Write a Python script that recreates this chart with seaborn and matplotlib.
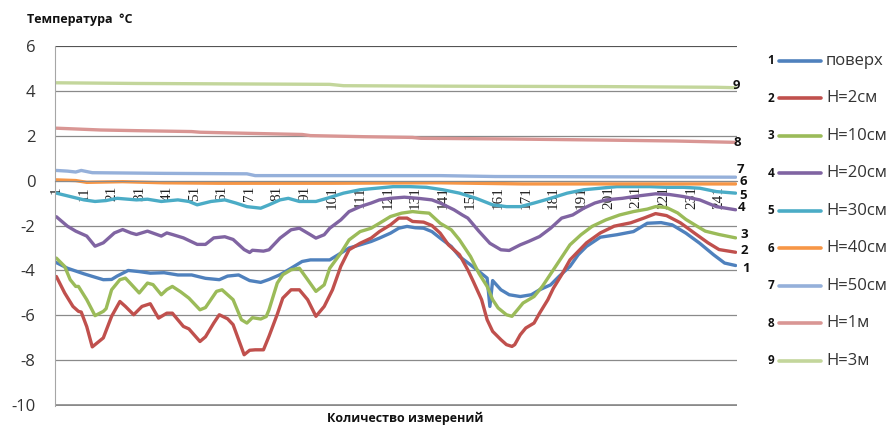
import numpy as np
import pandas as pd
import matplotlib
matplotlib.use('Agg')
import matplotlib.pyplot as plt
from matplotlib.lines import Line2D
import seaborn as sns

# ---- данные ----
series_names = ['поверх', 'H=2см', 'H=10см', 'H=20см', 'H=30см',
                'H=40см', 'H=50см', 'H=1м', 'H=3м']
series_colors = ['#4F81BD', '#C0504D', '#9BBB59', '#8064A2', '#4BACC6',
                 '#F79646', '#95B0DA', '#D99694', '#C3D69B']

n1 = [1, 5, 11, 15, 18, 21, 23, 27, 31, 35, 40, 45, 50, 55, 60, 63, 67, 71, 75, 78,
      82, 86, 90, 93, 100, 104, 107, 111, 115, 118, 122, 125, 128, 131, 134, 137, 140,
      144, 147, 151, 154, 157, 158, 159, 162, 165, 169, 173, 176, 180, 183, 187, 190,
      193, 198, 204, 210, 215, 220, 224, 229, 234, 239, 243, 247]
t1 = [-3.65, -3.9, -4.15, -4.3, -4.41, -4.4, -4.25, -4.0, -4.05, -4.12, -4.1, -4.2, -4.2,
      -4.35, -4.41, -4.25, -4.2, -4.45, -4.53, -4.4, -4.19, -3.9, -3.6, -3.53, -3.53,
      -3.23, -3.0, -2.86, -2.71, -2.56, -2.34, -2.12, -2.04, -2.1, -2.12, -2.27, -2.56,
      -2.93, -3.38, -3.75, -4.04, -4.34, -5.6, -4.45, -4.86, -5.08, -5.16, -5.08, -4.86,
      -4.64, -4.27, -3.82, -3.3, -2.93, -2.52, -2.41, -2.27, -1.9, -1.87, -1.97, -2.34,
      -2.79, -3.3, -3.67, -3.78]

n2 = [1, 4, 7, 9, 10, 12, 14, 18, 21, 24, 26, 29, 32, 35, 38, 41, 43, 47, 49, 53, 55,
      58, 60, 63, 65, 67, 69, 71, 73, 76, 78, 81, 83, 86, 89, 92, 95, 98, 101, 104, 107,
      111, 115, 118, 122, 125, 128, 130, 134, 137, 140, 143, 147, 150, 152, 155, 157,
      159, 162, 164, 166, 167, 169, 171, 174, 176, 179, 181, 184, 187, 193, 198, 203,
      209, 214, 218, 222, 227, 232, 237, 241, 247]
t2 = [-4.27, -5.0, -5.6, -5.82, -5.85, -6.5, -7.4, -7.0, -6.04, -5.38, -5.6, -5.97, -5.6,
      -5.48, -6.12, -5.9, -5.9, -6.49, -6.6, -7.16, -6.95, -6.34, -5.97, -6.15, -6.41,
      -7.08, -7.75, -7.55, -7.53, -7.53, -6.93, -5.95, -5.23, -4.86, -4.86, -5.3, -6.04,
      -5.6, -4.86, -3.82, -3.08, -2.79, -2.56, -2.27, -1.97, -1.67, -1.67, -1.82, -1.85,
      -2.0, -2.34, -2.86, -3.3, -3.97, -4.49, -5.3, -6.19, -6.71, -7.08, -7.3, -7.38,
      -7.3, -6.86, -6.56, -6.34, -5.9, -5.3, -4.79, -4.19, -3.53, -2.77, -2.33, -2.03,
      -1.88, -1.66, -1.47, -1.56, -1.88, -2.33, -2.77, -3.07, -3.19]

n3 = [1, 4, 6, 8, 9, 12, 15, 18, 19, 21, 24, 26, 28, 31, 34, 36, 39, 41, 43, 46, 49, 53,
      55, 59, 61, 65, 68, 70, 72, 75, 77, 78, 81, 83, 86, 89, 92, 95, 98, 100, 104, 107,
      111, 115, 118, 122, 126, 130, 133, 136, 140, 144, 147, 151, 154, 157, 159, 161,
      164, 166, 168, 170, 174, 177, 181, 185, 187, 191, 195, 200, 205, 210, 215, 218,
      222, 226, 229, 233, 236, 241, 247]
t3 = [-3.45, -3.82, -4.41, -4.71, -4.71, -5.3, -6.01, -5.82, -5.7, -4.86, -4.41, -4.34,
      -4.6, -5.0, -4.56, -4.63, -5.08, -4.85, -4.71, -4.95, -5.23, -5.75, -5.65, -4.93,
      -4.86, -5.3, -6.19, -6.34, -6.1, -6.16, -6.05, -5.75, -4.56, -4.19, -3.97, -3.9,
      -4.41, -4.93, -4.64, -3.9, -3.23, -2.64, -2.27, -2.12, -1.9, -1.6, -1.45, -1.38,
      -1.42, -1.45, -1.9, -2.19, -2.64, -3.38, -4.12, -4.71, -5.3, -5.67, -5.97, -6.04,
      -5.75, -5.45, -5.16, -4.71, -3.97, -3.23, -2.86, -2.41, -2.04, -1.75, -1.53, -1.38,
      -1.27, -1.16, -1.2, -1.44, -1.73, -2.03, -2.25, -2.4, -2.55]

n4 = [1, 5, 8, 12, 15, 18, 22, 25, 28, 30, 34, 39, 41, 43, 47, 52, 55, 58, 62, 65, 69,
      71, 72, 76, 78, 82, 86, 89, 93, 95, 98, 100, 104, 107, 111, 115, 118, 122, 127,
      132, 137, 140, 145, 148, 150, 154, 158, 162, 165, 169, 172, 176, 180, 184, 188,
      192, 196, 200, 206, 212, 218, 223, 228, 234, 240, 247]
t4 = [-1.61, -2.03, -2.25, -2.47, -2.92, -2.77, -2.33, -2.18, -2.33, -2.4, -2.25, -2.47,
      -2.33, -2.4, -2.55, -2.84, -2.84, -2.55, -2.5, -2.62, -3.07, -3.2, -3.1, -3.14,
      -3.08, -2.56, -2.19, -2.12, -2.41, -2.56, -2.41, -2.12, -1.75, -1.38, -1.16, -1.0,
      -0.86, -0.79, -0.74, -0.79, -0.86, -1.0, -1.3, -1.53, -1.67, -2.25, -2.79, -3.08,
      -3.11, -2.86, -2.71, -2.49, -2.12, -1.67, -1.53, -1.23, -1.0, -0.86, -0.79, -0.68,
      -0.59, -0.62, -0.71, -0.86, -1.16, -1.3]

n5 = [1, 6, 11, 15, 19, 23, 27, 30, 34, 39, 45, 49, 52, 57, 62, 66, 70, 75, 78, 82, 85,
      89, 95, 99, 105, 111, 117, 123, 129, 135, 141, 147, 153, 159, 164, 169, 174, 180,
      186, 192, 198, 204, 210, 216, 222, 228, 234, 240, 247]
t5 = [-0.56, -0.71, -0.86, -0.93, -0.89, -0.79, -0.83, -0.86, -0.83, -0.93, -0.86, -0.93,
      -1.08, -0.93, -0.86, -1.0, -1.16, -1.23, -1.08, -0.86, -0.79, -0.93, -0.93, -0.79,
      -0.56, -0.41, -0.34, -0.27, -0.27, -0.3, -0.41, -0.56, -0.79, -1.08, -1.16, -1.16,
      -1.0, -0.79, -0.56, -0.41, -0.34, -0.27, -0.27, -0.27, -0.3, -0.3, -0.34, -0.49,
      -0.56]

n6 = [1, 8, 12, 25, 40, 60, 100, 140, 170, 210, 247]
t6 = [0.03, 0.0, -0.08, -0.05, -0.1, -0.12, -0.12, -0.1, -0.15, -0.15, -0.15]

n7 = [1, 5, 8, 10, 14, 40, 70, 73, 140, 160, 247]
t7 = [0.45, 0.42, 0.38, 0.45, 0.35, 0.32, 0.3, 0.22, 0.22, 0.18, 0.15]

n8 = [1, 17, 30, 50, 53, 71, 90, 93, 113, 130, 133, 165, 200, 225, 247]
t8 = [2.33, 2.25, 2.22, 2.18, 2.15, 2.1, 2.05, 2.0, 1.95, 1.92, 1.88, 1.85, 1.8, 1.76, 1.7]

n9 = [1, 30, 100, 105, 140, 200, 240, 247]
t9 = [4.35, 4.32, 4.28, 4.22, 4.2, 4.18, 4.15, 4.13]

all_n = [n1, n2, n3, n4, n5, n6, n7, n8, n9]
all_t = [t1, t2, t3, t4, t5, t6, t7, t8, t9]
x_tick_labels = [str(k) for k in range(1, 248, 10)]

# подписи на концах линий: сдвиг в пикселях
end_offsets = [(10, -3), (9, 2), (9, 3), (6, 2), (8, -2), (8, 2), (5, 8), (2, 0), (1, 2)]

df = pd.concat([pd.DataFrame({'n': n, 't': t, 'series': name})
                for n, t, name in zip(all_n, all_t, series_names)], ignore_index=True)

sns.set_style('white')
plt.rcParams['font.family'] = ['Open Sans', 'DejaVu Sans']

W, H = 893, 425
fig = plt.figure(figsize=(W / 100, H / 100), dpi=100)
ax = fig.add_axes([55 / W, 1 - 406 / H, 682 / W, 360.3 / H])

sns.lineplot(data=df, x='n', y='t', hue='series', hue_order=series_names,
             palette=series_colors, estimator=None, linewidth=2.4,
             legend=False, ax=ax)

ax.set_xlim(0.5, 247.5)
ax.set_ylim(-10.03, 6)
ax.set_yticks(range(-10, 7, 2))
ax.set_yticklabels([str(v) for v in range(-10, 7, 2)], fontsize=12, color='#333333')
ax.yaxis.grid(True, color='#8a8a8a', lw=0.9)
ax.set_axisbelow(True)
ax.axhline(6, color='#444444', lw=1.1, zorder=1)
ax.axhline(-10, color='#8a8a8a', lw=1.2, zorder=1)
ax.tick_params(axis='y', length=5, width=0.8, color='#8a8a8a', pad=9)

for s in ['top', 'right']:
    ax.spines[s].set_visible(False)
ax.spines['left'].set_color('#a6a6a6')
ax.spines['bottom'].set_position(('data', 0))
ax.spines['bottom'].set_color('#8a8a8a')

ax.set_xticks(range(1, 248, 10))
ax.set_xticklabels(x_tick_labels, rotation=90, fontsize=11,
                   family=['Liberation Serif', 'DejaVu Serif'], color='#222222')
ax.set_xticks(np.arange(0.5, 248, 1), minor=True)
ax.tick_params(axis='x', which='major', length=0, pad=4)
ax.tick_params(axis='x', which='minor', length=4, width=0.7, color='#858585')
ax.set_xlabel('')
ax.set_ylabel('')

# номера серий на концах линий
for k, (n, t) in enumerate(zip(all_n, all_t)):
    dx, dy = end_offsets[k]
    ax.annotate(str(k + 1), xy=(n[-1], t[-1]), xytext=(dx, dy),
                textcoords='offset pixels', ha='center', va='center',
                fontsize=9.5, fontweight='bold', color='#111111',
                annotation_clip=False)

fig.text(27 / W, 1 - 19 / H, 'Температура  °C', fontsize=9, fontweight='bold',
         ha='left', va='center', color='#111111')
fig.text(405 / W, 1 - 418 / H, 'Количество измерений', fontsize=9, fontweight='bold',
         ha='center', va='center', color='#111111')

# легенда справа
for k, (name, col) in enumerate(zip(series_names, series_colors)):
    y = 1 - (61 + k * 37.45) / H
    fig.text(771 / W, y, str(k + 1), fontsize=8.5, fontweight='bold',
             ha='center', va='center', color='#111111')
    fig.add_artist(Line2D([779 / W, 821 / W], [y, y], color=col, lw=2.6,
                          transform=fig.transFigure))
    fig.text(826 / W, y, name, fontsize=12, ha='left', va='center', color='#333333')

plt.savefig('out.png', dpi=100, facecolor='white')
plt.close()
